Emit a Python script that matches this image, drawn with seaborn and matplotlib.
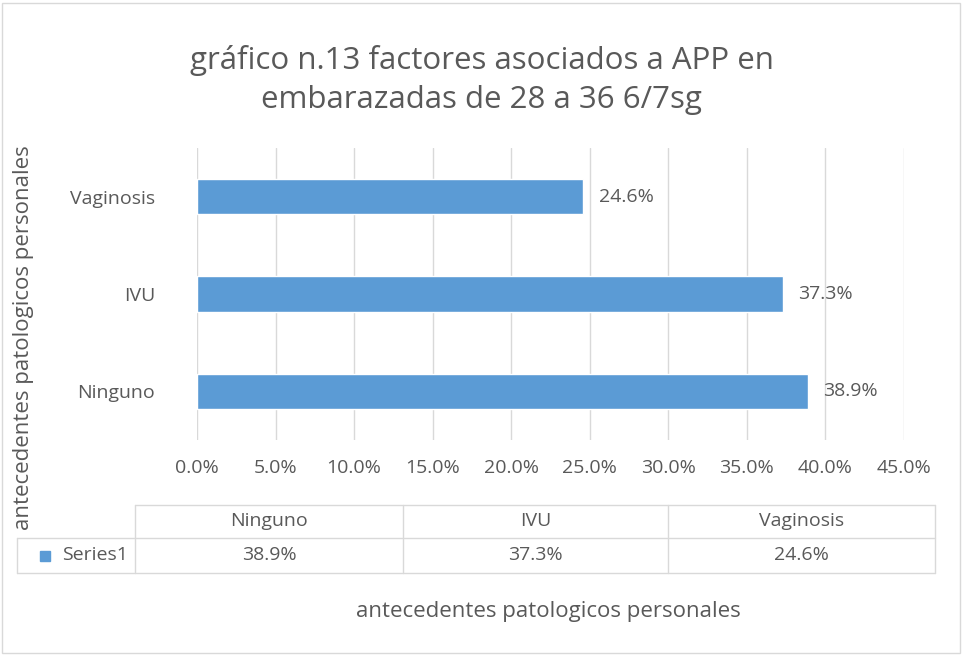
import seaborn as sns
import pandas as pd
import matplotlib.pyplot as plt
from matplotlib.patches import Rectangle
from matplotlib.lines import Line2D

sns.set_style('white')
plt.rcParams['font.family'] = ['Open Sans', 'DejaVu Sans']

categories = ['Ninguno', 'IVU', 'Vaginosis']
values = [38.9, 37.3, 24.6]
series_name = 'Series1'
xticks = [0, 5, 10, 15, 20, 25, 30, 35, 40, 45]

datas = pd.DataFrame({'cat': categories, 'val': values})
blue = '#5B9BD5'
grey = '#595959'
line = '#D9D9D9'

fig = plt.figure(figsize=(9.63, 6.55), dpi=100)
ax = fig.add_axes([197/963, 1-440/655, 707/963, 292/655])

sns.barplot(x='val', y='cat', data=datas, order=categories[::-1], color=blue,
            width=0.36, saturation=1, ax=ax)
ax.set_xlim(0, 45)
ax.set_xticks(xticks)
ax.set_xticklabels([f'{t:.1f}%' for t in xticks])
ax.grid(axis='x', color=line, lw=1)
ax.set_axisbelow(True)
for s in ax.spines.values():
    s.set_visible(False)
ax.tick_params(axis='both', length=0, labelsize=14, colors=grey, pad=14)
ax.tick_params(axis='y', pad=30)
ax.set_xlabel('')
ax.set_ylabel('')
for p, v in zip(ax.patches, datas.set_index('cat').loc[categories[::-1], 'val']):
    ax.annotate(f'{v:.1f}%', (p.get_width(), p.get_y() + p.get_height()/2),
                xytext=(11, 0), textcoords='offset points', va='center',
                fontsize=14, color=grey)

# title
fig.text(0.5, 1-80/655, 'gráfico n.13 factores asociados a APP en\nembarazadas de 28 a 36 6/7sg',
         ha='center', va='center', fontsize=22.5, color=grey, linespacing=1.4)

# y label
fig.text(24/963, 1-338/655, 'antecedentes patologicos personales', rotation=90,
         ha='center', va='center', fontsize=16, color=grey)

# data table
W, H = 963, 655
top, mid, bot = 505, 538, 573
cols = [135, 403, 668, 935]
left = 17
def fx(x): return x / W
def fy(y): return 1 - y / H
segs = [((cols[0], top), (cols[-1], top)),
        ((left, mid), (cols[-1], mid)),
        ((left, bot), (cols[-1], bot)),
        ((left, mid), (left, bot))]
for c in cols:
    segs.append(((c, top), (c, bot)))
for (x0, y0), (x1, y1) in segs:
    fig.add_artist(Line2D([fx(x0), fx(x1)], [fy(y0), fy(y1)], color=line, lw=1))
for i, (c, v) in enumerate(zip(categories, values)):
    xc = (cols[i] + cols[i+1]) / 2
    fig.text(fx(xc), fy((top+mid)/2), c, ha='center', va='center', fontsize=14, color=grey)
    fig.text(fx(xc), fy((mid+bot)/2), f'{v:.1f}%', ha='center', va='center', fontsize=14, color=grey)
fig.add_artist(Rectangle((fx(40), fy(561)), 10/W, 10/H, color=blue))
fig.text(fx(95), fy((mid+bot)/2), series_name, ha='center', va='center', fontsize=14, color=grey)

fig.text(fx(548), fy(612), 'antecedentes patologicos personales', ha='center', va='center',
         fontsize=16, color=grey)

# chart border
fig.add_artist(Rectangle((2/W, 2/H), 1-5/W, 1-5/H, fill=False, edgecolor=line, lw=1))

fig.savefig('out.png', dpi=100)
